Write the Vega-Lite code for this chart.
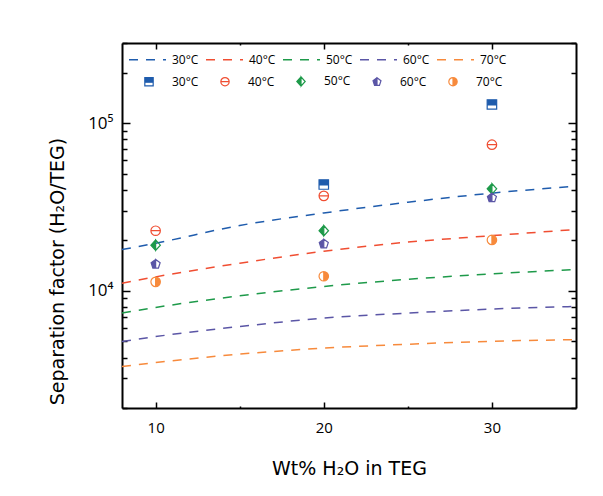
{
  "$schema": "https://vega.github.io/schema/vega-lite/v6.json",
  "autosize": {"type": "none"},
  "padding": {"left": 122, "top": 43, "right": 27, "bottom": 88},
  "width": 454,
  "height": 365,
  "background": "white",
  "config": {
    "font": "Open Sans",
    "view": {"stroke": null},
    "axis": {"domainColor": "black", "domainWidth": 2, "tickColor": "black", "tickWidth": 1.5, "grid": false, "labelColor": "black", "titleColor": "black", "titleFontWeight": "normal", "titleFont": "DejaVu Sans"}
  },
  "datasets": {
    "lines": [
      {"T": "30°C", "x": 8, "y": 17600}, {"T": "30°C", "x": 10, "y": 19200}, {"T": "30°C", "x": 15, "y": 24500}, {"T": "30°C", "x": 20, "y": 29100}, {"T": "30°C", "x": 25, "y": 33700}, {"T": "30°C", "x": 30, "y": 38200}, {"T": "30°C", "x": 35, "y": 42000},
      {"T": "40°C", "x": 8, "y": 11100}, {"T": "40°C", "x": 10, "y": 12100}, {"T": "40°C", "x": 15, "y": 14600}, {"T": "40°C", "x": 20, "y": 17200}, {"T": "40°C", "x": 25, "y": 19500}, {"T": "40°C", "x": 30, "y": 21300}, {"T": "40°C", "x": 35, "y": 23200},
      {"T": "50°C", "x": 8, "y": 7360}, {"T": "50°C", "x": 10, "y": 7950}, {"T": "50°C", "x": 15, "y": 9330}, {"T": "50°C", "x": 20, "y": 10600}, {"T": "50°C", "x": 25, "y": 11700}, {"T": "50°C", "x": 30, "y": 12600}, {"T": "50°C", "x": 35, "y": 13400},
      {"T": "60°C", "x": 8, "y": 4980}, {"T": "60°C", "x": 10, "y": 5330}, {"T": "60°C", "x": 15, "y": 6120}, {"T": "60°C", "x": 20, "y": 6870}, {"T": "60°C", "x": 25, "y": 7360}, {"T": "60°C", "x": 30, "y": 7780}, {"T": "60°C", "x": 35, "y": 8060},
      {"T": "70°C", "x": 8, "y": 3530}, {"T": "70°C", "x": 10, "y": 3730}, {"T": "70°C", "x": 15, "y": 4190}, {"T": "70°C", "x": 20, "y": 4550}, {"T": "70°C", "x": 25, "y": 4800}, {"T": "70°C", "x": 30, "y": 5000}, {"T": "70°C", "x": 35, "y": 5110}
    ],
    "points": [
      {"T": "30°C", "x": 20, "y": 43000}, {"T": "30°C", "x": 30, "y": 129000},
      {"T": "40°C", "x": 10, "y": 22800}, {"T": "40°C", "x": 20, "y": 36800}, {"T": "40°C", "x": 30, "y": 74300},
      {"T": "50°C", "x": 10, "y": 18700}, {"T": "50°C", "x": 20, "y": 22800}, {"T": "50°C", "x": 30, "y": 40500},
      {"T": "60°C", "x": 10, "y": 14400}, {"T": "60°C", "x": 20, "y": 19000}, {"T": "60°C", "x": 30, "y": 35800},
      {"T": "70°C", "x": 10, "y": 11300}, {"T": "70°C", "x": 20, "y": 12200}, {"T": "70°C", "x": 30, "y": 20100}
    ]
  },
  "resolve": {"axis": {"x": "independent", "y": "independent"}},
  "layer": [
    {
      "data": {"name": "lines"},
      "mark": {"type": "line", "strokeDash": [9, 8], "strokeWidth": 1.5, "interpolate": "monotone"},
      "encoding": {
        "x": {"field": "x", "type": "quantitative", "scale": {"domain": [8, 35], "nice": false, "zero": false},
          "axis": {"orient": "bottom", "values": [10, 15, 20, 25, 30], "format": "d", "labelExpr": "datum.value % 10 == 0 ? datum.label : ''", "labelFontSize": 15, "labelPadding": 18,
            "tickSize": {"condition": {"test": "datum.value % 10 == 0", "value": -6}, "value": -2},
            "title": "Wt% H₂O in TEG", "titleFontSize": 19, "titleY": 60, "titleBaseline": "middle"}},
        "y": {"field": "y", "type": "quantitative", "scale": {"type": "log", "domain": [2000, 300000], "nice": false},
          "axis": {"orient": "left", "values": [2000, 3000, 4000, 5000, 6000, 7000, 8000, 9000, 10000, 20000, 30000, 40000, 50000, 60000, 70000, 80000, 90000, 100000, 200000, 300000],
            "labelExpr": "datum.value == 10000 ? '10⁴' : datum.value == 100000 ? '10⁵' : ''", "labelOverlap": false, "labelFontSize": 17, "labelPadding": 17,
            "tickSize": {"condition": {"test": "datum.value == 10000 || datum.value == 100000", "value": -8}, "value": -5},
            "title": "Separation factor (H₂O/TEG)", "titleFontSize": 19, "titleX": -65, "titleY": 228, "titleBaseline": "middle"}},
        "color": {"field": "T", "type": "nominal",
          "scale": {"range": ["#1f5cad", "#f04e32", "#1e9a4a", "#5b56a6", "#f78a3c"]},
          "legend": {"orient": "none", "legendX": 6, "legendY": -3, "direction": "horizontal", "columns": 5, "title": null, "padding": 0,
            "symbolType": "stroke", "symbolSize": 1369, "symbolDash": [9, 8], "symbolStrokeWidth": 1.5, "labelOffset": 5, "columnPadding": 4, "labelFontSize": 12, "labelColor": "black"}}
      }
    },
    {
      "data": {"name": "points"},
      "mark": {"type": "point", "filled": true, "size": 90, "strokeWidth": 1.2, "opacity": 1, "fillOpacity": 1, "strokeOpacity": 1},
      "encoding": {
        "x": {"field": "x", "type": "quantitative", "scale": {"domain": [8, 35], "nice": false, "zero": false},
          "axis": {"orient": "top", "values": [10, 15, 20, 25, 30], "labels": false, "title": null,
            "tickSize": {"condition": {"test": "datum.value % 10 == 0", "value": -6}, "value": -2}}},
        "y": {"field": "y", "type": "quantitative", "scale": {"type": "log", "domain": [2000, 300000], "nice": false},
          "axis": {"orient": "right", "values": [2000, 3000, 4000, 5000, 6000, 7000, 8000, 9000, 10000, 20000, 30000, 40000, 50000, 60000, 70000, 80000, 90000, 100000, 200000, 300000], "labels": false, "title": null,
            "tickSize": {"condition": {"test": "datum.value == 10000 || datum.value == 100000", "value": -8}, "value": -5}}},
        "fill": {"field": "T", "type": "nominal", "scale": {"range": ["#1f5cad", "#f04e32", "#1e9a4a", "#5b56a6", "#f78a3c"]},
          "legend": {"orient": "none", "legendX": 21, "legendY": 32, "direction": "horizontal", "columns": 5, "title": null, "padding": 0,
            "symbolSize": 70, "symbolStrokeWidth": 1.2, "labelOffset": 17, "columnPadding": 19, "labelFontSize": 12, "labelColor": "black"}},
        "stroke": {"field": "T", "type": "nominal", "scale": {"range": ["#1f5cad", "#f04e32", "#1e9a4a", "#5b56a6", "#f78a3c"]}},
        "shape": {"field": "T", "type": "nominal", "scale": {"range": [
          "M-1,-1L1,-1L1,1L-1,1ZM-1,0.1L-1,1L1,1L1,0.1Z",
          "M0,-1A1,1 0 1,1 0,1A1,1 0 1,1 0,-1ZM0,-1A1,1 0 1,0 0,1A1,1 0 1,0 0,-1ZM-1,0L1,0",
          "M0,-1.1L1,0L0,1.1L-1,0ZM0,-1.1L0,1.1L1,0Z",
          "M0,-1L0.951,-0.309L0.588,0.809L-0.588,0.809L-0.951,-0.309ZM0,-1L0,0.809L0.588,0.809L0.951,-0.309Z",
          "M0,-1A1,1 0 1,1 0,1A1,1 0 1,1 0,-1ZM0,-1A1,1 0 0,0 0,1Z"
        ]}}
      }
    }
  ]
}
